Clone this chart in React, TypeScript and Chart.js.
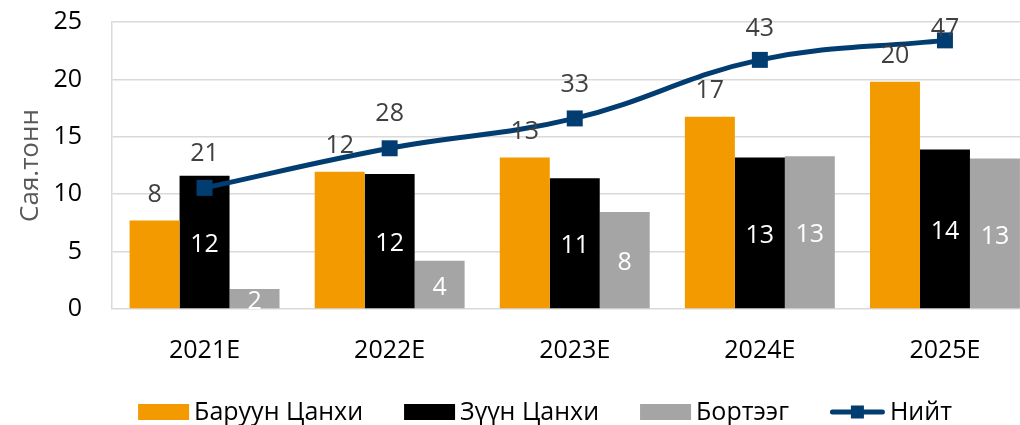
import React, { useEffect, useRef } from "react";
import { Chart, registerables } from "chart.js";

Chart.register(...registerables);

const categories = ["2021E", "2022E", "2023E", "2024E", "2025E"];
const baruunTsankhi = [7.7, 11.95, 13.2, 16.75, 19.8];
const zuunTsankhi = [11.6, 11.75, 11.4, 13.2, 13.9];
const borteeg = [1.75, 4.2, 8.45, 13.3, 13.1];
const niit = [21.1, 28.0, 33.2, 43.4, 46.8];
const yTicks = [0, 5, 10, 15, 20, 25];

const seriesNames = ["Баруун Цанхи", "Зүүн Цанхи", "Бортээг", "Нийт"];
const ORANGE = "#f29a00";
const BLACK = "#000000";
const GRAY = "#a5a5a5";
const NAVY = "#023d72";
const FONT = '"Open Sans", "Noto Sans", sans-serif';

const labelPlugin = {
  id: "valueLabels",
  afterDatasetsDraw(chart: any) {
    const ctx = chart.ctx;
    const area = chart.chartArea;
    ctx.save();
    ctx.beginPath();
    ctx.rect(0, 0, chart.width, area.bottom);
    ctx.clip();
    ctx.font = `25px ${FONT}`;
    ctx.textAlign = "center";
    ctx.textBaseline = "middle";
    chart.data.datasets.forEach((ds: any, i: number) => {
      const meta = chart.getDatasetMeta(i);
      meta.data.forEach((el: any, j: number) => {
        const txt = String(Math.round(ds.data[j]));
        let y: number;
        if (ds.type === "line") {
          y = Math.max(el.y - 34, 29);
          ctx.fillStyle = "#404040";
        } else if (ds.label === seriesNames[0]) {
          y = el.y - 26;
          ctx.fillStyle = "#404040";
        } else {
          y = (el.y + el.base) / 2 + 3;
          ctx.fillStyle = "#ffffff";
        }
        ctx.fillText(txt, el.x, y);
      });
    });
    ctx.restore();
  },
};

const legendPlugin = {
  id: "customLegend",
  afterDraw(chart: any) {
    const ctx = chart.ctx;
    ctx.save();
    ctx.font = `25px ${FONT}`;
    ctx.textBaseline = "middle";
    ctx.textAlign = "left";
    const boxW = 51;
    const boxH = 16;
    const lineW = 55;
    const textGap = 5;
    const itemGap = 41;
    const colors = [ORANGE, BLACK, GRAY, NAVY];
    const widths = seriesNames.map((n, i) => (i === 3 ? lineW : boxW) + textGap + ctx.measureText(n).width);
    const total = widths.reduce((a, b) => a + b, 0) + itemGap * (seriesNames.length - 1);
    let x = chart.width / 2 - total / 2;
    const cy = 412;
    seriesNames.forEach((n, i) => {
      if (i === 3) {
        ctx.strokeStyle = NAVY;
        ctx.lineWidth = 5;
        ctx.lineCap = "round";
        ctx.beginPath();
        ctx.moveTo(x + 2.5, cy);
        ctx.lineTo(x + lineW - 2.5, cy);
        ctx.stroke();
        ctx.fillStyle = NAVY;
        ctx.fillRect(x + lineW / 2 - 6.5, cy - 6.5, 13, 13);
        ctx.fillStyle = "#000";
        ctx.fillText(n, x + lineW + textGap, cy + 1);
      } else {
        ctx.fillStyle = colors[i];
        ctx.fillRect(x, cy - boxH / 2, boxW, boxH);
        ctx.fillStyle = "#000";
        ctx.fillText(n, x + boxW + textGap, cy + 1);
      }
      x += widths[i] + itemGap;
    });
    ctx.restore();
  },
};

export default function App() {
  const ref = useRef<HTMLCanvasElement | null>(null);
  useEffect(() => {
    if (!ref.current) return;
    const chart = new Chart(ref.current, {
      type: "bar",
      data: {
        labels: categories,
        datasets: [
          {
            type: "line",
            label: seriesNames[3],
            data: niit,
            yAxisID: "y1",
            borderColor: NAVY,
            backgroundColor: NAVY,
            borderWidth: 5,
            pointStyle: "rect",
            pointRadius: 11.3,
            pointBackgroundColor: NAVY,
            pointBorderWidth: 0,
            tension: 0.4,
            order: 0,
            clip: false,
          } as any,
          { type: "bar", label: seriesNames[0], data: baruunTsankhi, backgroundColor: ORANGE, yAxisID: "y", order: 1 },
          { type: "bar", label: seriesNames[1], data: zuunTsankhi, backgroundColor: BLACK, yAxisID: "y", order: 1 },
          { type: "bar", label: seriesNames[2], data: borteeg, backgroundColor: GRAY, yAxisID: "y", order: 1 },
        ],
      },
      options: {
        responsive: false,
        animation: false,
        devicePixelRatio: 1,
        layout: { autoPadding: false, padding: { top: 22, right: 52.5, left: 0, bottom: 0 } },
        datasets: { bar: { barPercentage: 1, categoryPercentage: 0.81 } },
        plugins: { legend: { display: false }, tooltip: { enabled: false } },
        scales: {
          x: {
            type: "category",
            grid: { display: false, drawTicks: false },
            border: { display: false },
            ticks: { font: { family: FONT, size: 25 }, color: "#000", padding: 27 },
            afterFit: (s: any) => {
              s.height = 116;
              s.paddingLeft = 0;
              s.paddingRight = 0;
            },
          },
          y: {
            position: "left",
            min: 0,
            max: 25,
            afterBuildTicks: (s: any) => {
              s.ticks = yTicks.map((v) => ({ value: v }));
            },
            grid: { color: "#d9d9d9", lineWidth: 1.5, drawTicks: false },
            border: { display: true, color: "#d9d9d9", width: 1.5 },
            ticks: { font: { family: FONT, size: 25 }, color: "#000", padding: 30 },
            title: {
              display: true,
              text: "Сая.тонн",
              color: "#595959",
              font: { family: FONT, size: 26 },
              padding: { top: 15, bottom: 0 },
            },
            afterFit: (s: any) => {
              s.width = 112;
              s.paddingTop = 0;
              s.paddingBottom = 0;
            },
          },
          y1: { display: false, min: 0, max: 50, position: "right" },
        },
      },
      plugins: [labelPlugin, legendPlugin],
    } as any);
    return () => chart.destroy();
  }, []);
  return (
    <div style={{ position: "fixed", left: 0, top: 0, width: 1020, height: 425, overflow: "hidden", background: "#fff" }}>
      <canvas ref={ref} width={1090} height={425} style={{ width: 1090, height: 425, display: "block" }} />
    </div>
  );
}
